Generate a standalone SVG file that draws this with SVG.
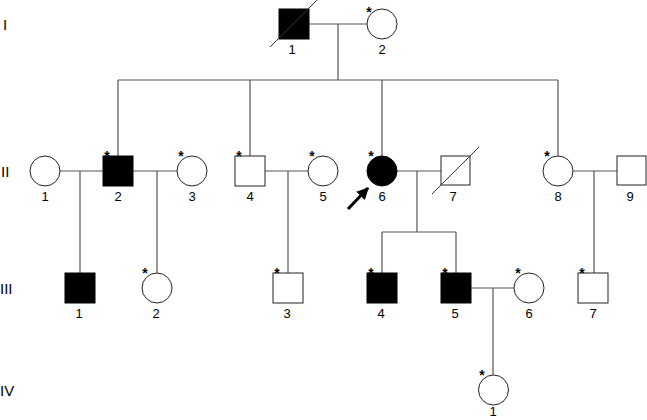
<svg xmlns="http://www.w3.org/2000/svg" width="647" height="420" viewBox="0 0 647 420">
<defs>
<style>
.s{fill:#fff;stroke:#222;stroke-width:1}
.a{fill:#000;stroke:#000;stroke-width:1}
.l{fill:none;stroke:#555;stroke-width:1.2}
.t{font-family:"Liberation Sans",Arial,sans-serif;font-size:13px;fill:#000;text-anchor:middle}
.g{font-family:"Liberation Sans",Arial,sans-serif;font-size:15px;fill:#000}
.k{font-family:"Liberation Sans",Arial,sans-serif;font-size:14px;font-weight:bold;fill:#000;text-anchor:middle}
</style>
<marker id="ah" viewBox="0 0 10 10" refX="9" refY="5" markerWidth="4" markerHeight="4" orient="auto"><path d="M0,0 L10,5 L0,10 z" fill="#000"/></marker>
</defs>
<rect width="647" height="420" fill="#fff"/>
<g id="gen-labels">
<text class="g" x="3" y="30">I</text>
<text class="g" x="1" y="177">II</text>
<text class="g" x="0" y="294">III</text>
<text class="g" x="0" y="396">IV</text>
</g>
<g id="connectors">
<path class="l" d="M309,24 H367 M338,24 V80 M118,80 H558 M118,80 V156 M250,80 V156 M382,80 V156 M558,80 V156"/>
<path class="l" d="M60,171 H103 M80,171 V273 M133,171 H177 M157,171 V273 M265,171 H308 M288,171 V273"/>
<path class="l" d="M397,171 H441 M417,171 V232 M382,232 H456 M382,232 V273 M456,232 V273"/>
<path class="l" d="M573,171 H617 M594,171 V273"/>
<path class="l" d="M470,288 H514 M493,288 V375"/>
</g>
<g id="I-1"><rect class="a" x="279" y="9" width="30" height="30"/><line x1="270" y1="47" x2="317" y2="0" stroke="#333" stroke-width="1"/><text class="t" x="292" y="54">1</text></g>
<g id="I-2"><circle class="s" cx="382" cy="24" r="15"/><text class="k" x="369" y="17">*</text><text class="t" x="382" y="54">2</text></g>
<g id="II-1"><circle class="s" cx="45" cy="171" r="15"/><text class="t" x="45" y="201">1</text></g>
<g id="II-2"><rect class="a" x="103" y="156" width="30" height="30"/><text class="k" x="107" y="161">*</text><text class="t" x="118" y="201">2</text></g>
<g id="II-3"><circle class="s" cx="192" cy="171" r="15"/><text class="k" x="181" y="161">*</text><text class="t" x="192" y="201">3</text></g>
<g id="II-4"><rect class="s" x="235" y="156" width="30" height="30"/><text class="k" x="239" y="161">*</text><text class="t" x="250" y="201">4</text></g>
<g id="II-5"><circle class="s" cx="323" cy="171" r="15"/><text class="k" x="312" y="161">*</text><text class="t" x="323" y="201">5</text></g>
<g id="II-6"><circle class="a" cx="382" cy="171" r="15"/><text class="k" x="371" y="161">*</text><text class="t" x="382" y="201">6</text>
<line x1="348" y1="209" x2="368" y2="188" stroke="#000" stroke-width="3" marker-end="url(#ah)"/></g>
<g id="II-7"><rect class="s" x="441" y="156" width="29" height="29"/><line x1="432" y1="194" x2="479" y2="147" stroke="#333" stroke-width="1"/><text class="t" x="453" y="201">7</text></g>
<g id="II-8"><circle class="s" cx="558" cy="171" r="15"/><text class="k" x="547" y="161">*</text><text class="t" x="558" y="201">8</text></g>
<g id="II-9"><rect class="s" x="617" y="156" width="29" height="29"/><text class="t" x="630" y="201">9</text></g>
<g id="III-1"><rect class="a" x="65" y="273" width="30" height="30"/><text class="t" x="79" y="318">1</text></g>
<g id="III-2"><circle class="s" cx="157" cy="288" r="15"/><text class="k" x="145" y="278">*</text><text class="t" x="156" y="318">2</text></g>
<g id="III-3"><rect class="s" x="273" y="273" width="30" height="30"/><text class="k" x="277" y="278">*</text><text class="t" x="287" y="318">3</text></g>
<g id="III-4"><rect class="a" x="367" y="273" width="30" height="30"/><text class="k" x="371" y="278">*</text><text class="t" x="381" y="318">4</text></g>
<g id="III-5"><rect class="a" x="441" y="273" width="30" height="30"/><text class="k" x="445" y="278">*</text><text class="t" x="455" y="318">5</text></g>
<g id="III-6"><circle class="s" cx="529" cy="288" r="15"/><text class="k" x="518" y="278">*</text><text class="t" x="529" y="318">6</text></g>
<g id="III-7"><rect class="s" x="578" y="273" width="30" height="30"/><text class="k" x="582" y="278">*</text><text class="t" x="593" y="318">7</text></g>
<g id="IV-1"><circle class="s" cx="493.5" cy="390" r="15"/><text class="k" x="482" y="380">*</text><text class="t" x="493" y="416">1</text></g>
</svg>
